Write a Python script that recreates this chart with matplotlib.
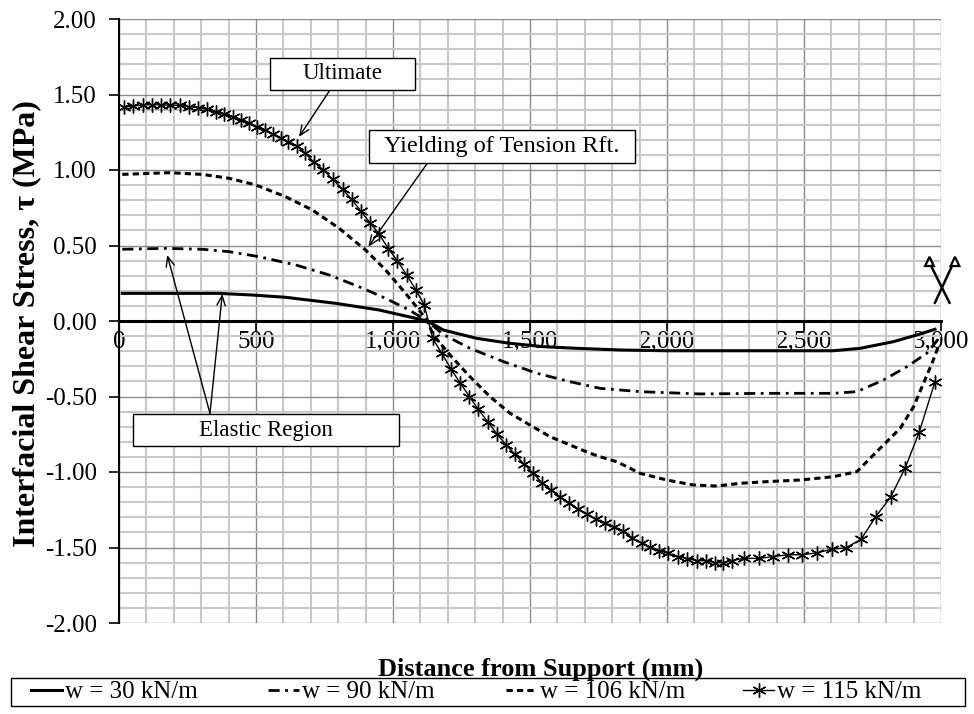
import numpy as np
import matplotlib.pyplot as plt
from matplotlib.lines import Line2D
from matplotlib.patches import Rectangle, Polygon
from matplotlib.ticker import MultipleLocator, FuncFormatter

plt.rcParams['font.family'] = ['Liberation Serif', 'DejaVu Serif']
plt.rcParams['lines.scale_dashes'] = False

# distance from support (mm) and interfacial shear stress (MPa) for each load level
x30 = [12, 365, 487, 608, 791, 949, 1125, 1184, 1306, 1427, 1549, 1671, 1829,
       2000, 2500, 2607, 2705, 2826, 2911, 2978]
y30 = [0.183, 0.183, 0.172, 0.157, 0.117, 0.073, 0.0, -0.06, -0.115, -0.148,
       -0.17, -0.181, -0.192, -0.197, -0.197, -0.197, -0.181, -0.137, -0.093, -0.055]

x90 = [12, 170, 304, 402, 511, 645, 767, 876, 973, 1059, 1125, 1184, 1281, 1403,
       1525, 1646, 1756, 1902, 2121, 2364, 2607, 2693, 2790, 2875, 2948, 2990]
y90 = [0.475, 0.481, 0.475, 0.459, 0.426, 0.371, 0.305, 0.227, 0.150, 0.073, 0.0,
       -0.09, -0.181, -0.269, -0.346, -0.402, -0.446, -0.468, -0.483, -0.479,
       -0.479, -0.468, -0.391, -0.303, -0.214, -0.12]

x106 = [12, 183, 304, 402, 499, 608, 706, 803, 900, 973, 1046, 1095, 1125, 1147,
        1208, 1281, 1354, 1427, 1500, 1573, 1646, 1719, 1756, 1817, 1902, 1999,
        2096, 2182, 2267, 2364, 2486, 2607, 2693, 2729, 2790, 2851, 2900, 2936,
        2972, 2990]
y106 = [0.971, 0.982, 0.971, 0.945, 0.901, 0.823, 0.735, 0.614, 0.470, 0.338,
        0.183, 0.073, 0.0, -0.093, -0.225, -0.369, -0.501, -0.611, -0.689, -0.766,
        -0.821, -0.876, -0.899, -0.932, -1.009, -1.053, -1.086, -1.093, -1.075,
        -1.064, -1.053, -1.031, -0.998, -0.932, -0.821, -0.711, -0.567, -0.413,
        -0.258, -0.17]

x115 = [18, 52, 86, 119, 152, 186, 223, 256, 289, 320, 354, 383, 415, 444, 476,
        505, 534, 563, 591, 618, 649, 680, 712, 746, 780, 816, 849, 882, 916, 949,
        983, 1016, 1050, 1084, 1114, 1145, 1178, 1212, 1245, 1279, 1311, 1346,
        1379, 1413, 1445, 1478, 1512, 1545, 1577, 1610, 1643, 1676, 1709, 1740,
        1774, 1807, 1838, 1874, 1908, 1938, 1972, 2005, 2041, 2074, 2109, 2143,
        2176, 2203, 2236, 2281, 2334, 2386, 2441, 2494, 2547, 2601, 2654, 2708,
        2762, 2817, 2869, 2921, 2978]
y115 = [1.415, 1.424, 1.430, 1.433, 1.430, 1.430, 1.428, 1.419, 1.413, 1.402,
        1.386, 1.371, 1.353, 1.331, 1.309, 1.287, 1.265, 1.236, 1.214, 1.187,
        1.16, 1.11, 1.051, 1.000, 0.938, 0.872, 0.806, 0.730, 0.651, 0.576,
        0.479, 0.399, 0.305, 0.205, 0.106, -0.115, -0.214, -0.320, -0.409,
        -0.501, -0.585, -0.667, -0.748, -0.821, -0.883, -0.947, -1.009, -1.075,
        -1.119, -1.164, -1.203, -1.247, -1.278, -1.313, -1.340, -1.366, -1.390,
        -1.437, -1.472, -1.499, -1.521, -1.539, -1.561, -1.574, -1.587, -1.587,
        -1.601, -1.600, -1.587, -1.572, -1.572, -1.561, -1.548, -1.548, -1.535,
        -1.512, -1.501, -1.446, -1.296, -1.163, -0.975, -0.733, -0.402]

labels = ['w = 30 kN/m', 'w = 90 kN/m', 'w = 106 kN/m', 'w = 115 kN/m']

fig = plt.figure(figsize=(9.74, 7.14), dpi=100)
ax = fig.add_axes([119/974, 1 - 623/714, 822/974, 604/714])

# styles
dashdot = (0, (8, 4, 2, 4))
dashed = (0, (4.5, 3))
star = (6, 2, 0)

l30, = ax.plot(x30, y30, color='black', lw=2.2, zorder=3)
l90, = ax.plot(x90, y90, color='black', lw=2.0, linestyle=dashdot, zorder=3)
l106, = ax.plot(x106, y106, color='black', lw=2.2, linestyle=dashed, zorder=3)
l115, = ax.plot(x115, y115, color='black', lw=1.0, marker=star, ms=10,
                mew=1.0, zorder=3)

ax.set_xlim(0, 3000)
ax.set_ylim(-2, 2)
ax.xaxis.set_major_locator(MultipleLocator(500))
ax.xaxis.set_minor_locator(MultipleLocator(100))
ax.yaxis.set_major_locator(MultipleLocator(0.5))
ax.yaxis.set_minor_locator(MultipleLocator(0.1))
ax.xaxis.set_major_formatter(FuncFormatter(lambda v, p: '{:,.0f}'.format(v)))
ax.yaxis.set_major_formatter(FuncFormatter(lambda v, p: '{:.2f}'.format(v)))

ax.grid(which='minor', color='#c8c8c8', lw=1.5)
ax.grid(which='major', color='#8a8a8a', lw=1.0)
ax.set_axisbelow(True)

ax.spines['top'].set_visible(False)
ax.spines['right'].set_visible(False)
ax.spines['bottom'].set_position(('data', 0))
ax.spines['bottom'].set_linewidth(2.2)
ax.spines['left'].set_linewidth(1.5)
ax.tick_params(axis='x', which='major', direction='out', length=7, width=1.2,
               labelsize=18, pad=0)
ax.tick_params(axis='y', which='major', direction='out', length=7, width=1.2,
               labelsize=18, pad=9)
ax.tick_params(which='minor', length=0)

# annotation boxes with arrows
def box(x0, x1, y0, y1, text, size=16.5):
    ax.add_patch(Rectangle((x0, y0), x1 - x0, y1 - y0, facecolor='white',
                           edgecolor='black', lw=1.0, zorder=5, clip_on=False))
    ax.text((x0 + x1) / 2, (y0 + y1) / 2, text, ha='center', va='center',
            fontsize=size, zorder=6)

def arrow(start, tip):
    ax.annotate('', xy=tip, xytext=start, zorder=4,
                arrowprops=dict(arrowstyle='->,head_length=0.7,head_width=0.3',
                                lw=1.0, color='black', shrinkA=0, shrinkB=0))

box(551, 1080, 1.530, 1.742, 'Ultimate')
arrow((770, 1.530), (657, 1.219))
box(914, 1883, 1.044, 1.265, 'Yielding of Tension Rft.', 17.5)
arrow((1125, 1.044), (910, 0.492))
box(52, 1022, -0.828, -0.616, 'Elastic Region')
arrow((332, -0.612), (176, 0.437))
arrow((332, -0.612), (377, 0.179))

# symmetry mark at mid-span
ax.add_line(Line2D([2964, 3031], [0.364, 0.121], color='black', lw=1.8,
                   clip_on=False, zorder=4))
ax.add_line(Line2D([3040, 2978], [0.364, 0.121], color='black', lw=1.8,
                   clip_on=False, zorder=4))
for xc in (2958, 3051):
    ax.add_patch(Polygon([[xc - 16, 0.364], [xc + 16, 0.364], [xc, 0.425]],
                         closed=True, fill=False, edgecolor='black', lw=1.6,
                         clip_on=False, zorder=4))

fig.text(27/974, 1 - 324/714, 'Interfacial Shear Stress, τ (MPa)', rotation=90,
         ha='center', va='center', fontsize=23, fontweight='bold')
fig.text(541/974, 1 - 669/714, 'Distance from Support (mm)', ha='center',
         va='center', fontsize=19, fontweight='bold')

# legend: one entry per slot inside a shared frame
fig.add_artist(Rectangle((11/974, 1 - 706/714), 954/974, 28/714,
                         transform=fig.transFigure, facecolor='white',
                         edgecolor='black', lw=1.0))
for handle, text, x0 in zip([l30, l90, l106, l115], labels, [31, 268, 506, 743]):
    fig.legend([handle], [text], loc='center left',
               bbox_to_anchor=(x0/974, 1 - 692/714), frameon=False,
               fontsize=18, handlelength=1.25, handletextpad=0.1,
               borderpad=0, borderaxespad=0)

fig.savefig('out.png', dpi=100)
